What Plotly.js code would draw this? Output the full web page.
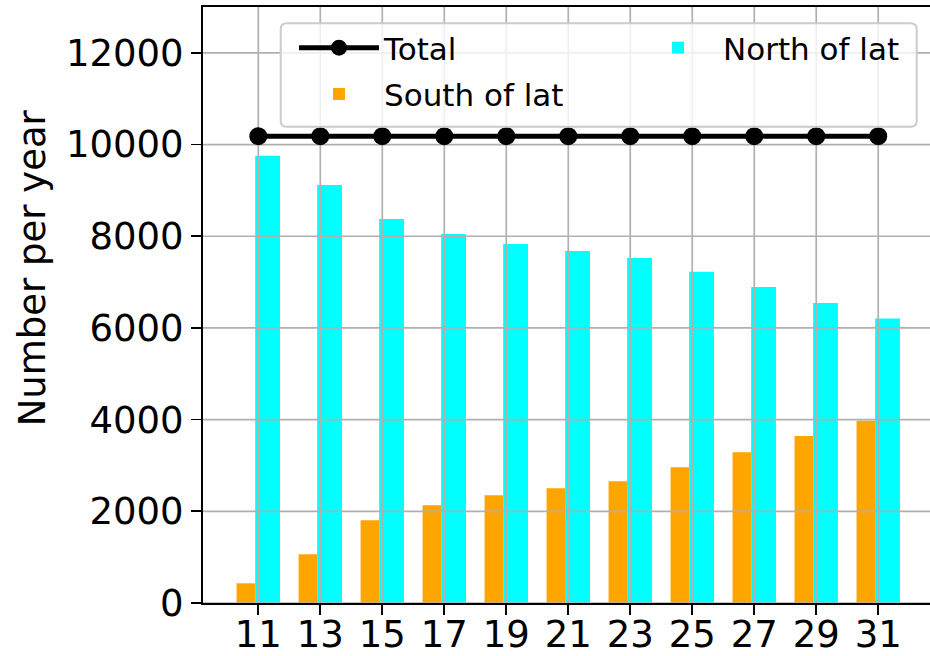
<!DOCTYPE html>
<html>
<head>
<meta charset="utf-8">
<script src="https://cdn.plot.ly/plotly-3.0.1.min.js"></script>
<style>
html,body{margin:0;padding:0;background:#fff;overflow:hidden;}
#chart{width:930px;height:656px;}
</style>
</head>
<body>
<div id="chart"></div>
<script>
// Data
const latitudes = [11, 13, 15, 17, 19, 21, 23, 25, 27, 29, 31];
const southOfLat = [430, 1063, 1806, 2133, 2352, 2504, 2657, 2963, 3290, 3640, 3975];
const northOfLat = [9753, 9120, 8376, 8050, 7832, 7679, 7526, 7225, 6893, 6544, 6205];
const totalPerYear = [10183, 10183, 10183, 10183, 10183, 10183, 10183, 10183, 10183, 10183, 10183];
const yTickValues = [0, 2000, 4000, 6000, 8000, 10000, 12000];
const yTickLabels = ["0", "2000", "4000", "6000", "8000", "10000", "12000"];
const xTickLabels = ["11", "13", "15", "17", "19", "21", "23", "25", "27", "29", "31"];
const yLabel = "Number per year";

const xRange = [9.216, 32.67];
const yRange = [0, 13000];
const gridColor = "#b0b0b0";
const FONT = "DejaVu Sans, Verdana, sans-serif";

const traces = [];

traces.push({
  type: "bar", name: "South of lat", x: latitudes, y: southOfLat,
  offset: -0.7, width: 0.6,
  marker: {color: "#ffa500", line: {width: 0}},
  legend: "legend", legendrank: 2, legendgroup: "s", hoverinfo: "x+y"
});
traces.push({
  type: "bar", name: "North of lat", x: latitudes, y: northOfLat,
  offset: -0.1, width: 0.8,
  marker: {color: "#00ffff", line: {width: 0}},
  legend: "legend2", legendgroup: "n", hoverinfo: "x+y"
});

// grid lines drawn above bars (as in the reference), from tick arrays
latitudes.forEach(function (v) {
  traces.push({type: "scatter", mode: "lines", x: [v, v], y: yRange,
    line: {color: gridColor, width: 1.7}, showlegend: false, hoverinfo: "skip"});
});
yTickValues.forEach(function (v) {
  traces.push({type: "scatter", mode: "lines", x: xRange, y: [v, v],
    line: {color: gridColor, width: 1.7}, showlegend: false, hoverinfo: "skip"});
});

traces.push({
  type: "scatter", mode: "lines+markers", name: "Total",
  x: latitudes, y: totalPerYear,
  line: {color: "#000000", width: 5},
  marker: {color: "#000000", size: 18},
  legend: "legend", legendrank: 1, legendgroup: "t"
});

// legend frame (rounded box, semi-transparent white) in paper coordinates
const bx0 = 0.1069, bx1 = 0.9817, by0 = 0.7991, by1 = 0.9726, rx = 0.0083, ry = 0.0101;
const framePath =
  "M" + (bx0 + rx) + "," + by1 + " L" + (bx1 - rx) + "," + by1 +
  " Q" + bx1 + "," + by1 + " " + bx1 + "," + (by1 - ry) +
  " L" + bx1 + "," + (by0 + ry) +
  " Q" + bx1 + "," + by0 + " " + (bx1 - rx) + "," + by0 +
  " L" + (bx0 + rx) + "," + by0 +
  " Q" + bx0 + "," + by0 + " " + bx0 + "," + (by0 + ry) +
  " L" + bx0 + "," + (by1 - ry) +
  " Q" + bx0 + "," + by1 + " " + (bx0 + rx) + "," + by1 + " Z";

const legendCommon = {
  yanchor: "top", xanchor: "left", orientation: "v",
  itemwidth: 80, bgcolor: "rgba(0,0,0,0)", borderwidth: 0,
  tracegroupgap: 3,
  font: {family: FONT, size: 31, color: "#000"}
};

const layout = {
  width: 930, height: 656,
  margin: {l: 203, r: 0, t: 7, b: 53, pad: 0},
  paper_bgcolor: "#ffffff", plot_bgcolor: "#ffffff",
  barmode: "overlay",
  font: {family: FONT, size: 37, color: "#000"},
  showlegend: true,
  legend: Object.assign({}, legendCommon, {x: (294 - 203) / 727, y: 0.9765}),
  legend2: Object.assign({}, legendCommon, {x: (633 - 203) / 727, y: 0.9765}),
  shapes: [{
    type: "path", xref: "paper", yref: "paper", path: framePath,
    fillcolor: "rgba(255,255,255,0.8)", line: {color: "#cccccc", width: 2},
    layer: "above"
  }],
  xaxis: {
    range: xRange, autorange: false,
    tickmode: "array", tickvals: latitudes, ticktext: xTickLabels,
    showgrid: false, zeroline: false,
    showline: true, linecolor: "#000", linewidth: 2, mirror: true,
    ticks: "outside", ticklen: 10, tickwidth: 1.7, tickcolor: "#000",
    ticklabelstandoff: -12,
    tickfont: {family: FONT, size: 37, color: "#000"}
  },
  yaxis: {
    range: yRange, autorange: false,
    tickmode: "array", tickvals: yTickValues, ticktext: yTickLabels,
    showgrid: false, zeroline: false,
    showline: true, linecolor: "#000", linewidth: 2,
    ticks: "outside", ticklen: 10, tickwidth: 1.7, tickcolor: "#000",
    tickfont: {family: FONT, size: 37, color: "#000"}
  },
  annotations: [{
    text: yLabel, textangle: -90,
    xref: "paper", yref: "paper", x: -0.234, y: 0.563,
    xanchor: "center", yanchor: "middle", showarrow: false,
    font: {family: FONT, size: 37, color: "#000"}
  }]
};

Plotly.newPlot("chart", traces, layout, {displayModeBar: false, staticPlot: true});
</script>
</body>
</html>
